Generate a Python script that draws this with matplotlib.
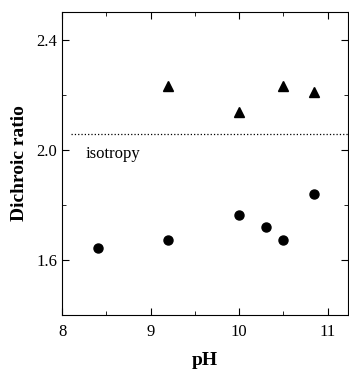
import matplotlib
matplotlib.use("Agg")
import matplotlib.pyplot as plt
from matplotlib.ticker import MultipleLocator

# Triangles (upper series)
ph_tri = [9.2, 10.0, 10.5, 10.85]
ratio_tri = [2.23, 2.137, 2.23, 2.21]

# Circles (lower series)
ph_circ = [8.4, 9.2, 10.0, 10.3, 10.5, 10.85]
ratio_circ = [1.643, 1.672, 1.762, 1.72, 1.672, 1.839]

isotropy = 2.058

plt.rcParams['font.family'] = ['Liberation Serif', 'DejaVu Serif']

fig = plt.figure(figsize=(3.49, 3.73), dpi=100)
ax = fig.add_axes([0.178, 0.155, 0.819, 0.813])

ax.plot(ph_tri, ratio_tri, linestyle='none', marker='^', color='black', markersize=7.5)
ax.plot(ph_circ, ratio_circ, linestyle='none', marker='o', color='black', markersize=6.5)

ax.plot([8.1, 11.23], [isotropy, isotropy], linestyle=':', color='black', linewidth=0.9)
ax.text(8.27, 1.985, 'isotropy', fontsize=12, va='center', ha='left')

ax.set_xlim(8, 11.23)
ax.set_ylim(1.4, 2.5)
ax.xaxis.set_major_locator(MultipleLocator(1))
ax.xaxis.set_minor_locator(MultipleLocator(0.5))
ax.set_yticks([1.6, 2.0, 2.4])
ax.set_yticklabels(['1.6', '2.0', '2.4'])
ax.yaxis.set_minor_locator(MultipleLocator(0.2))
ax.tick_params(which='both', direction='in', top=True, right=True, labelsize=12)
ax.tick_params(which='major', length=5)
ax.tick_params(which='minor', length=3)
ax.tick_params(axis='x', pad=6)

ax.set_xlabel('pH', fontsize=14, fontweight='bold', labelpad=9)
ax.set_ylabel('Dichroic ratio', fontsize=14, fontweight='bold', labelpad=6)

fig.savefig('out.png', dpi=100)
